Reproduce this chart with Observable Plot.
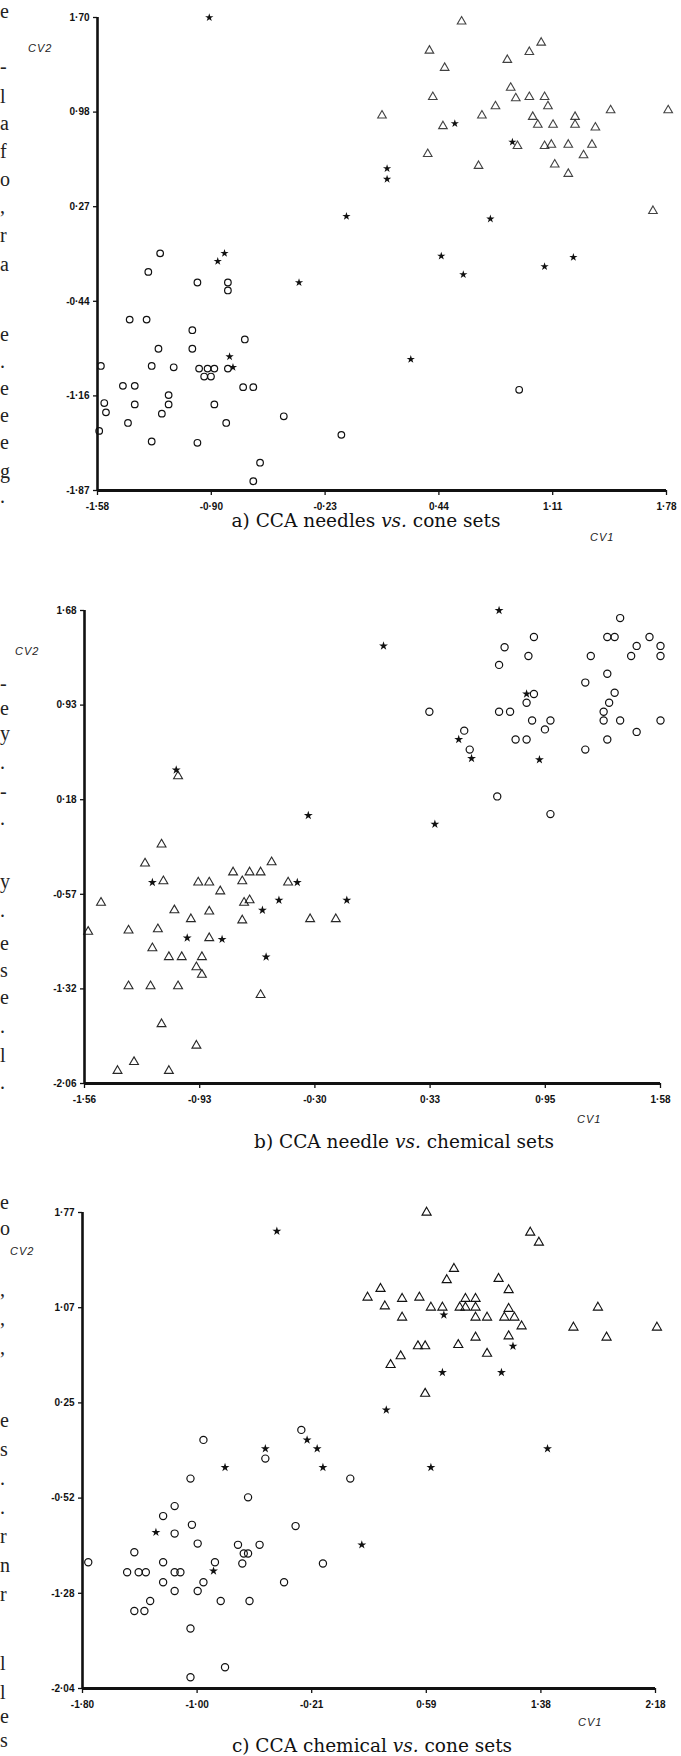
<!DOCTYPE html>
<html><head><meta charset="utf-8">
<script src="https://cdn.jsdelivr.net/npm/d3@7"></script>
<script src="https://cdn.jsdelivr.net/npm/@observablehq/plot@0.6"></script>
<style>
body{margin:0;background:#fff;}
#wrap{position:relative;width:681px;height:1756px;overflow:hidden;background:#fff;}
.panel{position:absolute;left:0;}
.cap{position:absolute;left:0;width:681px;text-align:center;font-family:"DejaVu Serif","Liberation Serif",serif;font-size:18.5px;line-height:20px;color:#111;}
.cv{position:absolute;font-family:"Liberation Sans",Arial,sans-serif;font-style:italic;font-size:11px;letter-spacing:1px;color:#222;}
.frag{position:absolute;left:0;font-family:"Liberation Serif",serif;font-size:20px;line-height:22px;color:#222;}
</style></head><body><div id="wrap"></div>
<script>
// ---- Panel a: CCA needles vs. cone sets ----
const aXTicks = ["-1·58","-0·90","-0·23","0·44","1·11","1·78"];
const aYTicks = ["1·70","0·98","0·27","-0·44","-1·16","-1·87"];
const aCircles = [[-1.21,-0.08],[-1.28,-0.22],[-0.99,-0.30],[-0.81,-0.30],[-0.81,-0.36],[-1.39,-0.58],[-1.29,-0.58],[-1.02,-0.66],[-0.71,-0.73],[-1.22,-0.80],[-1.02,-0.80],[-1.56,-0.93],[-1.26,-0.93],[-1.13,-0.94],[-0.98,-0.95],[-0.93,-0.95],[-0.89,-0.95],[-0.81,-0.95],[-0.95,-1.01],[-0.91,-1.01],[-1.43,-1.08],[-1.36,-1.08],[-0.72,-1.09],[-0.66,-1.09],[-1.16,-1.15],[0.91,-1.11],[-1.54,-1.21],[-1.36,-1.22],[-1.16,-1.22],[-0.89,-1.22],[-1.53,-1.28],[-1.20,-1.29],[-0.48,-1.31],[-1.40,-1.36],[-0.82,-1.36],[-1.57,-1.42],[-0.14,-1.45],[-1.26,-1.50],[-0.99,-1.51],[-0.62,-1.66],[-0.66,-1.80]];
const aStars = [[-0.92,1.70],[-0.83,-0.08],[-0.87,-0.14],[-0.39,-0.30],[-0.80,-0.86],[-0.78,-0.94],[-0.11,0.20],[0.13,0.56],[0.13,0.48],[0.27,-0.88],[0.45,-0.10],[0.58,-0.24],[0.53,0.90],[0.74,0.18],[0.87,0.76],[1.06,-0.18],[1.23,-0.11]];
const aTriangles = [[0.57,1.67],[1.04,1.51],[0.97,1.44],[0.84,1.38],[0.38,1.45],[0.47,1.32],[0.86,1.17],[0.89,1.09],[0.97,1.10],[1.06,1.10],[0.40,1.10],[1.08,1.03],[0.77,1.03],[0.69,0.96],[1.45,1.00],[1.79,1.00],[0.10,0.96],[0.99,0.95],[1.24,0.95],[1.02,0.89],[1.11,0.89],[1.24,0.89],[1.36,0.87],[0.46,0.88],[0.90,0.73],[1.06,0.73],[1.10,0.74],[1.20,0.74],[1.34,0.74],[0.37,0.67],[1.29,0.66],[0.67,0.58],[1.12,0.59],[1.20,0.52],[1.70,0.24]];

// ---- Panel b: CCA needle vs. chemical sets ----
const bXTicks = ["-1·56","-0·93","-0·30","0·33","0·95","1·58"];
const bYTicks = ["1·68","0·93","0·18","-0·57","-1·32","-2·06"];
const bCircles = [[1.36,1.62],[0.89,1.47],[1.29,1.47],[1.33,1.47],[1.52,1.47],[0.73,1.39],[1.45,1.40],[1.58,1.40],[0.86,1.32],[1.20,1.32],[1.42,1.32],[1.58,1.32],[0.70,1.25],[1.29,1.18],[1.17,1.11],[0.89,1.02],[1.33,1.03],[0.85,0.95],[1.30,0.95],[0.70,0.88],[0.76,0.88],[1.27,0.88],[0.32,0.88],[0.88,0.81],[0.98,0.81],[1.27,0.81],[1.36,0.81],[1.58,0.81],[0.51,0.73],[0.95,0.74],[1.45,0.72],[0.79,0.66],[0.85,0.66],[1.29,0.66],[0.54,0.58],[1.17,0.58],[0.69,0.21],[0.98,0.07]];
const bStars = [[0.70,1.68],[0.07,1.40],[0.85,1.02],[0.48,0.66],[0.55,0.51],[0.92,0.50],[-1.06,0.42],[-0.34,0.06],[0.35,-0.01],[-1.19,-0.47],[-0.40,-0.47],[-0.50,-0.61],[-0.13,-0.61],[-0.59,-0.69],[-1.00,-0.91],[-0.81,-0.92],[-0.57,-1.06]];
const bTriangles = [[-1.14,-0.17],[-1.23,-0.32],[-0.75,-0.39],[-0.66,-0.39],[-0.60,-0.39],[-0.54,-0.31],[-1.13,-0.46],[-0.94,-0.47],[-0.88,-0.47],[-0.70,-0.46],[-0.45,-0.47],[-0.82,-0.54],[-1.47,-0.63],[-0.69,-0.63],[-0.66,-0.61],[-1.07,-0.69],[-0.88,-0.70],[-0.98,-0.76],[-0.70,-0.77],[-0.33,-0.76],[-0.19,-0.76],[-1.54,-0.86],[-1.32,-0.85],[-1.16,-0.84],[-0.88,-0.91],[-1.19,-0.99],[-1.10,-1.06],[-1.03,-1.06],[-0.92,-1.06],[-0.95,-1.14],[-0.92,-1.20],[-1.32,-1.29],[-1.20,-1.29],[-1.05,-1.29],[-0.60,-1.36],[-1.14,-1.59],[-0.95,-1.76],[-1.29,-1.89],[-1.38,-1.96],[-1.10,-1.96],[-1.05,0.37]];

// ---- Panel c: CCA chemical vs. cone sets ----
const cXTicks = ["-1·80","-1·00","-0·21","0·59","1·38","2·18"];
const cYTicks = ["1·77","1·07","0·25","-0·52","-1·28","-2·04"];
const cCircles = [[-1.76,-1.03],[-0.96,-0.05],[-0.28,0.03],[-0.53,-0.20],[-1.05,-0.36],[0.06,-0.36],[-0.65,-0.51],[-1.16,-0.58],[-1.24,-0.66],[-1.04,-0.73],[-0.32,-0.74],[-1.16,-0.80],[-1.00,-0.88],[-0.72,-0.89],[-0.57,-0.89],[-1.44,-0.95],[-0.68,-0.96],[-0.65,-0.96],[-1.24,-1.03],[-0.88,-1.03],[-0.69,-1.04],[-0.13,-1.04],[-1.49,-1.11],[-1.41,-1.11],[-1.36,-1.11],[-1.16,-1.11],[-1.12,-1.11],[-1.24,-1.19],[-0.96,-1.19],[-0.40,-1.19],[-1.16,-1.26],[-1.00,-1.26],[-1.33,-1.34],[-0.84,-1.34],[-0.64,-1.34],[-1.44,-1.42],[-1.37,-1.42],[-1.05,-1.56],[-0.81,-1.87],[-1.05,-1.95]];
const cStars = [[-0.45,1.62],[0.71,0.95],[1.19,0.70],[0.70,0.49],[1.11,0.49],[0.31,0.19],[1.43,-0.12],[-0.53,-0.12],[-0.24,-0.05],[-0.17,-0.12],[-0.81,-0.27],[-0.13,-0.27],[0.62,-0.27],[-1.29,-0.79],[0.14,-0.89],[-0.89,-1.10]];
const cTriangles = [[0.59,1.77],[1.31,1.61],[1.37,1.53],[0.78,1.32],[0.73,1.23],[1.09,1.24],[1.16,1.15],[0.27,1.16],[0.18,1.09],[0.42,1.08],[0.54,1.09],[0.86,1.08],[0.93,1.08],[0.30,1.02],[0.62,1.01],[0.70,1.01],[0.82,1.01],[0.86,1.01],[0.93,1.01],[1.16,1.00],[1.78,1.01],[0.42,0.93],[0.93,0.93],[1.01,0.93],[1.13,0.93],[1.20,0.93],[1.25,0.86],[1.61,0.85],[2.19,0.85],[0.93,0.77],[1.16,0.78],[1.84,0.77],[0.53,0.70],[0.58,0.70],[0.81,0.71],[1.01,0.64],[0.41,0.62],[0.34,0.55],[0.58,0.32]];

// line-end fragments of the neighbouring text column at the page edge
const fragChars = ["e","-","l","a","f","o",",","r","a","e",".","e","e","e","g",".","-","e","y",".","-",".","y",".","e","s","e",".","l",".","e","o",",",",",",","e","s",".",".","r","n","r","l","l","e","s"];
const fragY = [13,68,98,125,153,181,208,237,266,336,363,390,417,444,473,498,685,710,735,764,793,820,883,912,945,972,999,1028,1057,1084,1204,1230,1291,1320,1349,1422,1451,1480,1509,1538,1567,1596,1665,1694,1718,1742];

const wrap = document.getElementById("wrap");

fragChars.forEach((c, i) => {
  const d = document.createElement("div");
  d.className = "frag"; d.textContent = c;
  d.style.top = Math.min(1756 - 22, Math.max(0, fragY[i] - 13)) + "px";
  wrap.appendChild(d);
});

function tickVals(labels) { return labels.map(s => +s.replace("·", ".")); }
// The printed ticks are evenly spaced on the page: place them evenly between the two ends
function evenTicks(labels) {
  const v = tickVals(labels), a = v[0], b = v[v.length - 1];
  return v.map((_, i) => a + (b - a) * i / (v.length - 1));
}
function fmt(labels) {
  const pos = evenTicks(labels);
  return d => labels[d3.minIndex(pos, p => Math.abs(p - d))];
}

function panel(o) {
  const xv = evenTicks(o.xl), yv = evenTicks(o.yl);
  const xd = d3.extent(xv), yd = d3.extent(yv);
  const chart = Plot.plot({
    width: 681, height: o.height,
    marginLeft: o.ml, marginRight: o.mr, marginTop: o.mt, marginBottom: o.mb,
    x: {domain: xd}, y: {domain: yd},
    style: {background: "transparent", fontFamily: "'Liberation Sans', Arial, sans-serif", fontSize: "10px", fontWeight: "bold", color: "#111", overflow: "visible"},
    marks: [
      Plot.axisX({ticks: xv, tickFormat: fmt(o.xl), tickSize: 5, tickPadding: 7, label: null, strokeWidth: 1.3}),
      Plot.axisY({ticks: yv, tickFormat: fmt(o.yl), tickSize: 4, tickPadding: 4, label: null, strokeWidth: 1.3}),
      Plot.ruleX([xd[0]], {stroke: "#111", strokeWidth: 2.6}),
      Plot.ruleY([yd[0]], {stroke: "#111", strokeWidth: 2.8}),
      Plot.dot(o.circles, {x: d => d[0], y: d => d[1], symbol: "circle", r: o.rc, stroke: "#111", fill: "none", strokeWidth: 1.2}),
      Plot.dot(o.triangles, {x: d => d[0], y: d => d[1], symbol: "triangle", r: o.rt, stroke: "#111", fill: "none", strokeWidth: 1.1, strokeOpacity: o.to}),
      Plot.dot(o.stars, {x: d => d[0], y: d => d[1], symbol: "star", r: o.rs, fill: "#111", stroke: "none"})
    ]
  });
  chart.classList.add("panel");
  chart.style.top = o.top + "px";
  chart.style.position = "absolute";
  wrap.appendChild(chart);
  const cv2 = document.createElement("div");
  cv2.className = "cv"; cv2.textContent = "CV2";
  cv2.style.left = o.cv2[0] + "px"; cv2.style.top = o.cv2[1] + "px";
  wrap.appendChild(cv2);
  const cv1 = document.createElement("div");
  cv1.className = "cv"; cv1.textContent = "CV1";
  cv1.style.left = o.cv1[0] + "px"; cv1.style.top = o.cv1[1] + "px";
  wrap.appendChild(cv1);
  const cap = document.createElement("div");
  cap.className = "cap"; cap.innerHTML = o.caption;
  cap.style.top = o.capTop + "px"; cap.style.left = (o.capCenter - 340.5) + "px";
  wrap.appendChild(cap);
}

panel({top: 0, height: 560, ml: 97, mr: 15, mt: 17, mb: 70, xl: aXTicks, yl: aYTicks,
  circles: aCircles, triangles: aTriangles, stars: aStars, rc: 3.3, rt: 3.2, rs: 2.6, to: 0.8,
  cv2: [28, 42], cv1: [590, 531], caption: "a) CCA needles <i>vs.</i> cone sets", capTop: 511, capCenter: 366});
panel({top: 580, height: 560, ml: 84, mr: 21, mt: 30, mb: 57, xl: bXTicks, yl: bYTicks,
  circles: bCircles, triangles: bTriangles, stars: bStars, rc: 3.6, rt: 3.3, rs: 2.8, to: 0.9,
  cv2: [15, 645], cv1: [577, 1113], caption: "b) CCA needle <i>vs.</i> chemical sets", capTop: 1132, capCenter: 404});
panel({top: 1190, height: 566, ml: 82, mr: 26, mt: 22, mb: 68, xl: cXTicks, yl: cYTicks,
  circles: cCircles, triangles: cTriangles, stars: cStars, rc: 3.6, rt: 3.4, rs: 2.8, to: 1,
  cv2: [10, 1245], cv1: [578, 1716], caption: "c) CCA chemical <i>vs.</i> cone sets", capTop: 1736, capCenter: 372});
</script>
</body></html>
